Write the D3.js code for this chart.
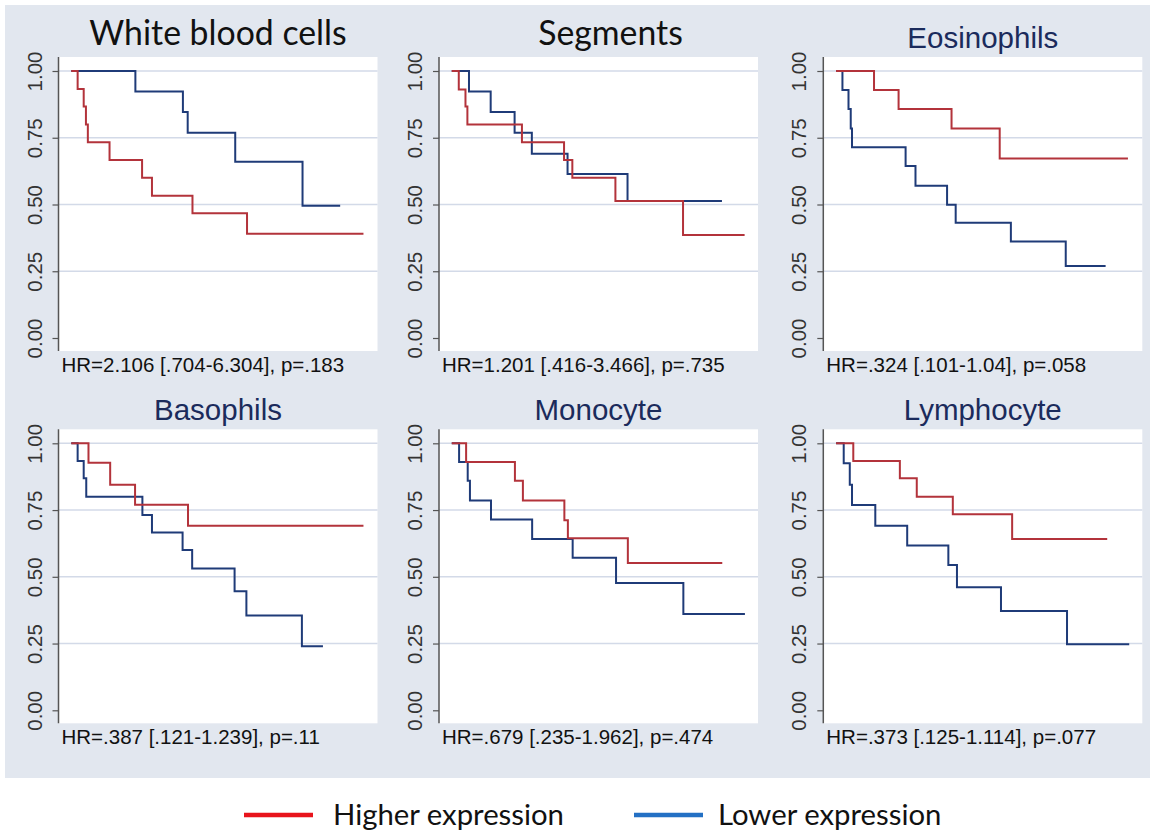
<!DOCTYPE html>
<html>
<head>
<meta charset="utf-8">
<script src="https://cdn.jsdelivr.net/npm/d3@7"></script>
<style>
  body { margin: 0; background: #fff; }
  svg { display: block; }
</style>
</head>
<body>
<script>
// y axis ticks and panel labels
var yTicks = [0, 0.25, 0.5, 0.75, 1];
var titles = ["White blood cells", "Segments", "Eosinophils", "Basophils", "Monocyte", "Lymphocyte"];
var hrLabels = [
  "HR=2.106 [.704-6.304], p=.183",
  "HR=1.201 [.416-3.466], p=.735",
  "HR=.324 [.101-1.04], p=.058",
  "HR=.387 [.121-1.239], p=.11",
  "HR=.679 [.235-1.962], p=.474",
  "HR=.373 [.125-1.114], p=.077"
];
var legendLabels = ["Higher expression", "Lower expression"];

// survival steps [time, survival]
var wbcHigh = [[0,1],[2.0,.933],[3.9,.867],[4.6,.8],[5.2,.733],[12.0,.667],[22.2,.6],[25.3,.533],[38.0,.467],[55.1,.39],[91.6,.39]];
var wbcLow  = [[0,1],[20.1,.923],[35.0,.846],[36.5,.769],[51.4,.66],[72.5,.495],[84.3,.495]];
var segHigh = [[0,1],[2.2,.931],[4.3,.867],[4.9,.8],[22.0,.733],[35.2,.667],[37.8,.6],[51.3,.513],[72.5,.386],[91.8,.386]];
var segLow  = [[0,1],[5.4,.923],[12.2,.846],[19.7,.769],[25.1,.69],[36.3,.614],[55.1,.513],[84.7,.513]];
var eosHigh = [[0,1],[11.9,.929],[19.6,.858],[36.2,.785],[51.3,.672],[91.5,.672]];
var eosLow  = [[0,1],[2.0,.929],[3.9,.858],[4.6,.785],[5.0,.714],[21.8,.644],[24.9,.57],[34.8,.499],[37.5,.432],[54.8,.361],[72.0,.27],[84.5,.27]];
var basHigh = [[0,1],[5.4,.927],[12.2,.845],[20.0,.77],[36.6,.691],[91.6,.691]];
var basLow  = [[0,1],[2.0,.934],[3.9,.869],[4.7,.80],[22.3,.731],[25.3,.666],[34.9,.60],[37.9,.531],[51.2,.446],[54.9,.355],[72.3,.24],[78.9,.24]];
var monHigh = [[0,1],[4.5,.93],[19.8,.86],[22.3,.786],[35.3,.712],[36.4,.644],[55.2,.552],[84.8,.552]];
var monLow  = [[0,1],[2.3,.93],[5.0,.86],[5.7,.786],[12.3,.715],[25.2,.642],[37.9,.571],[51.5,.477],[72.6,.361],[91.9,.361]];
var lymHigh = [[0,1],[5.4,.934],[20.0,.869],[25.3,.80],[36.6,.734],[55.2,.642],[85.0,.642]];
var lymLow  = [[0,1],[2.4,.925],[4.3,.845],[5.0,.769],[12.3,.691],[22.3,.617],[35.2,.544],[37.9,.461],[51.7,.372],[72.4,.247],[91.9,.247]];

var highSeries = [wbcHigh, segHigh, eosHigh, basHigh, monHigh, lymHigh];
var lowSeries = [wbcLow, segLow, eosLow, basLow, monLow, lymLow];

window.onload = function () {
	var width = 1153, height = 831;
	var colX = [58.5, 439, 823.3], rowY = [57, 429.3];
	var plotW = 319, plotH = 294;
	var redCol = "#b3333b", blueCol = "#1f3b78";

	var svg = d3.select("body").append("svg").attr("width", width).attr("height", height);

	svg.append("rect").attr("x", 5).attr("y", 5).attr("width", 1145).attr("height", 773).attr("fill", "#e2e7ef");

	titles.forEach(function (title, i) {
		var col = i % 3, row = Math.floor(i / 3);
		var x0 = colX[col], y0 = rowY[row];
		var g = svg.append("g").attr("transform", "translate(" + x0 + "," + y0 + ")");

		var x = d3.scaleLinear().domain([-4, 96]).range([0, plotW]);
		var y = d3.scaleLinear().domain([0, 1]).range([plotH - 13, 14]);

		g.append("rect").attr("width", plotW).attr("height", plotH).attr("fill", "#fff");

		// grid
		g.selectAll(".grid").data(yTicks.filter(function (d) { return d > 0; })).enter().append("line")
			.attr("x1", 0).attr("x2", plotW)
			.attr("y1", function (d) { return y(d); }).attr("y2", function (d) { return y(d); })
			.attr("stroke", "#d3dae8").attr("stroke-width", 1.5);

		// y axis
		var axis = g.append("g").call(d3.axisLeft(y).tickValues(yTicks).tickSize(6).tickFormat(d3.format(".2f")));
		axis.select(".domain").attr("d", "M0,0V" + plotH).attr("stroke", "#555").attr("stroke-width", 1.5);
		axis.selectAll(".tick line").attr("stroke", "#555").attr("stroke-width", 1.2);
		axis.selectAll(".tick text")
			.attr("x", null).attr("dy", null)
			.attr("transform", "translate(-17,0) rotate(-90)")
			.attr("text-anchor", "middle")
			.attr("fill", "#333")
			.style("font-family", "'Liberation Sans', Arial, sans-serif")
			.style("font-size", "20.5px");

		var line = d3.line().x(function (d) { return x(d[0]); }).y(function (d) { return y(d[1]); })
			.curve(d3.curveStepAfter);

		g.append("path").datum(lowSeries[i]).attr("d", line)
			.attr("fill", "none").attr("stroke", blueCol).attr("stroke-width", 2);
		g.append("path").datum(highSeries[i]).attr("d", line)
			.attr("fill", "none").attr("stroke", redCol).attr("stroke-width", 2);

		// HR text
		g.append("text").attr("x", 3).attr("y", plotH + 21)
			.style("font-family", "'Liberation Sans', Arial, sans-serif")
			.style("font-size", "20.5px").attr("fill", "#111")
			.text(hrLabels[i]);

		// titles: first two in a Calibri-like face, the rest in Stata style
		var t = g.append("text").attr("text-anchor", "middle").text(title);
		if (i < 2) {
			t.attr("x", i == 0 ? plotW / 2 : 171.5).attr("y", -12)
				.style("font-family", "Lato, 'Open Sans', sans-serif")
				.style("font-size", "33.8px").attr("fill", "#111");
		} else {
			t.attr("x", plotW / 2).attr("y", i == 2 ? -9 : -9.5)
				.style("font-family", "'Liberation Sans', Arial, sans-serif")
				.style("font-size", "29.5px").attr("fill", "#1b2b5c");
		}
	});

	// legend
	var legend = [{x: 244, col: "#e8141c"}, {x: 634, col: "#2370c4"}];
	legend.forEach(function (d, i) {
		svg.append("line").attr("x1", d.x).attr("x2", d.x + 69).attr("y1", 815).attr("y2", 815)
			.attr("stroke", d.col).attr("stroke-width", 4.5);
		svg.append("text").attr("x", d.x + (i == 0 ? 89 : 84)).attr("y", 825)
			.style("font-family", "Lato, 'Open Sans', sans-serif").style("font-size", "29.3px")
			.attr("fill", "#111").text(legendLabels[i]);
	});
};
</script>
</body>
</html>
